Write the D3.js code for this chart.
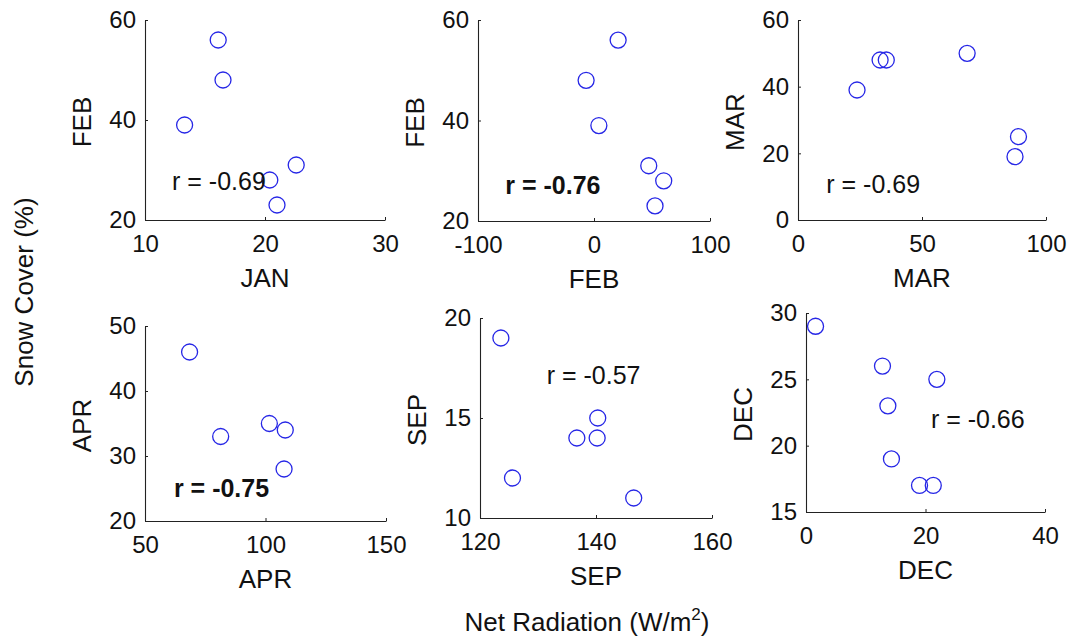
<!DOCTYPE html>
<html>
<head>
<meta charset="utf-8">
<script src="https://cdn.jsdelivr.net/npm/d3@7"></script>
<style>
  html, body { margin: 0; padding: 0; background: #fff; }
  svg { display: block; }
  text { font-family: "Liberation Sans", Arial, Helvetica, sans-serif; fill: #111; }
</style>
</head>
<body>
<svg id="chart" width="1080" height="641"></svg>
<script>
// ---- Data ----
const months = ["JAN", "FEB", "MAR", "APR", "SEP", "DEC"];
const snowMonths = ["FEB", "FEB", "MAR", "APR", "SEP", "DEC"];

// Net radiation (x) and snow cover (y) per panel
const radJAN = [16.1, 16.5, 13.3, 22.6, 20.4, 21.0];
const snowJAN = [56, 48, 39, 31, 28, 23];

const radFEB = [20.8, -6.8, 4.2, 47.2, 60.1, 52.6];
const snowFEB = [56, 48, 39, 31, 28, 23];

const radMAR = [23.8, 33.1, 35.6, 68.2, 88.9, 87.5];
const snowMAR = [39, 48, 48, 50, 25, 19];

const radAPR = [68.5, 81.4, 101.6, 108.2, 107.7];
const snowAPR = [46, 33, 35, 34, 28];

const radSEP = [123.6, 125.6, 136.7, 140.2, 140.3, 146.5];
const snowSEP = [19, 12, 14, 14, 15, 11];

const radDEC = [1.6, 12.8, 21.9, 13.7, 14.3, 19.0, 21.3];
const snowDEC = [29, 26, 25, 23, 19, 17, 17];

const rValues = ["-0.69", "-0.76", "-0.69", "-0.75", "-0.57", "-0.66"];
const rBold = [false, true, false, true, false, false];

// axis domains & ticks
const xDomains = [[10, 30], [-100, 100], [0, 100], [50, 150], [120, 160], [0, 40]];
const yDomains = [[20, 60], [20, 60], [0, 60], [20, 50], [10, 20], [15, 30]];
const xTicks = [[10, 20, 30], [-100, 0, 100], [0, 50, 100], [50, 100, 150], [120, 140, 160], [0, 20, 40]];
const yTicks = [[20, 40, 60], [20, 40, 60], [0, 20, 40, 60], [20, 30, 40, 50], [10, 15, 20], [15, 20, 25, 30]];

// annotation anchor (data units)
const rAnchorX = [12.25, -76.5, 11.4, 62, 131.5, 20.9];
const rAnchorY = [26, 25.4, 8.1, 23.7, 16.7, 21.3];

const yAxisTitle = "Snow Cover (%)";
const xAxisTitle = "Net Radiation (W/m";

// ---- Layout ----
const frames = [
  { l: 145, r: 385, t: 20, b: 220 },
  { l: 478, r: 710, t: 20, b: 221 },
  { l: 798, r: 1046, t: 20, b: 220 },
  { l: 145, r: 386, t: 326, b: 521 },
  { l: 480, r: 712, t: 318, b: 518 },
  { l: 806, r: 1045, t: 313, b: 512 }
];

const xs = [radJAN, radFEB, radMAR, radAPR, radSEP, radDEC];
const ys = [snowJAN, snowFEB, snowMAR, snowAPR, snowSEP, snowDEC];

const fmt = d => String(d); // plain hyphen-minus, like the reference

const svg = d3.select("#chart");

frames.forEach((f, i) => {
  const g = svg.append("g");
  const x = d3.scaleLinear().domain(xDomains[i]).range([f.l, f.r]);
  const y = d3.scaleLinear().domain(yDomains[i]).range([f.b, f.t]);

  const xa = g.append("g").attr("transform", `translate(0,${f.b})`)
    .call(d3.axisBottom(x).tickValues(xTicks[i]).tickFormat(fmt)
      .tickSizeInner(-3).tickSizeOuter(0).tickPadding(15));
  const ya = g.append("g").attr("transform", `translate(${f.l},0)`)
    .call(d3.axisLeft(y).tickValues(yTicks[i]).tickFormat(fmt)
      .tickSizeInner(-3).tickSizeOuter(0).tickPadding(9));

  [xa, ya].forEach(a => {
    a.select(".domain").attr("stroke", "#222").attr("stroke-width", 1.1);
    a.selectAll(".tick line").attr("stroke", "#222").attr("stroke-width", 1);
    a.selectAll(".tick text").attr("font-size", 24).attr("fill", "#111")
      .style("font-family", '"Liberation Sans", Arial, sans-serif');
  });

  // axis labels
  g.append("text")
    .attr("x", (f.l + f.r) / 2).attr("y", f.b + 66.5)
    .attr("text-anchor", "middle").attr("font-size", 26)
    .text(months[i]);
  g.append("text")
    .attr("transform", `translate(${f.l - 54},${(f.t + f.b) / 2 + 2}) rotate(-90)`)
    .attr("text-anchor", "middle").attr("font-size", 26)
    .text(snowMonths[i]);

  // points
  g.selectAll("circle").data(xs[i].map((d, k) => [d, ys[i][k]]))
    .join("circle")
    .attr("cx", d => x(d[0])).attr("cy", d => y(d[1]))
    .attr("r", 8)
    .attr("fill", "none").attr("stroke", "#2626e6").attr("stroke-width", 1.3);

  // correlation text
  g.append("text")
    .attr("x", x(rAnchorX[i])).attr("y", y(rAnchorY[i]))
    .attr("font-size", 25)
    .attr("font-weight", rBold[i] ? "bold" : "normal")
    .text("r = " + rValues[i]);
});

// global titles
svg.append("text")
  .attr("transform", "translate(33,292) rotate(-90)")
  .attr("text-anchor", "middle").attr("font-size", 26)
  .text(yAxisTitle);

const xt = svg.append("text")
  .attr("x", 587).attr("y", 631)
  .attr("text-anchor", "middle").attr("font-size", 26);
xt.append("tspan").text(xAxisTitle);
xt.append("tspan").attr("font-size", 17).attr("dy", -11).text("2");
xt.append("tspan").attr("dy", 11).text(")");
</script>
</body>
</html>
